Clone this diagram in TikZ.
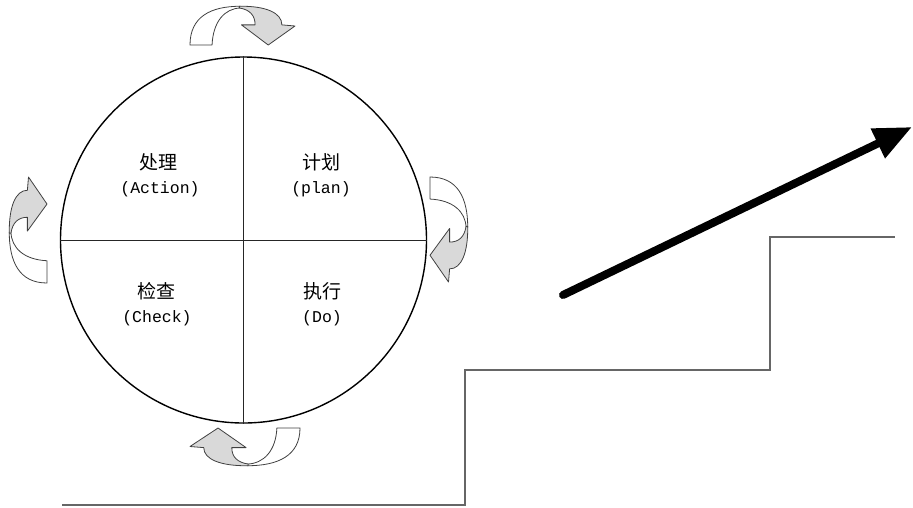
\documentclass[tikz,border=0pt]{standalone}
\usepackage{fontspec}
\setmonofont{Liberation Mono}
\newfontfamily\cjk{Noto Sans CJK SC}
\usetikzlibrary{arrows.meta}
\tikzset{
  quad/.style={draw=black!85, line width=1pt},
  cntext/.style={font=\cjk\fontsize{19}{22}\selectfont, inner sep=0pt},
  entext/.style={font=\ttfamily\fontsize{16.5}{20}\selectfont, inner sep=0pt},
  backband/.style={fill=white, draw=black!75, line width=0.8pt, line join=round},
  frontband/.style={fill=black!15, draw=black!75, line width=0.8pt, line join=round},
  stair/.style={draw=black!60, line width=1.3pt},
  bigarrow/.style={line width=8pt, line cap=round, -{Triangle[length=38pt,width=31pt]}}
}
\newcommand\pdcacurl{%
  \path[backband] (0,0) -- (0.21,0) .. controls (0.22,0.62) and (0.33,0.96) .. (0.48,0.975)
    -- (0.48,1.02) .. controls (0.2,1.02) and (0,0.75) .. (0,0) -- cycle;
  \path[frontband] (0.47,1.02) .. controls (0.72,1.03) and (0.875,0.85) .. (0.875,0.53)
    -- (1,0.5) -- (0.745,0) -- (0.49,0.53) -- (0.62,0.53)
    .. controls (0.62,0.78) and (0.57,0.93) .. (0.47,0.975) -- cycle;
}
\begin{document}
\begin{tikzpicture}[x=1pt,y=-1pt]
\useasboundingbox (0,0) rectangle (913,507);
% circle and quadrants
\node[circle, draw=black, line width=1.4pt, minimum size=366pt, inner sep=0pt] (c) at (243.5,240) {};
\draw[quad] (c.north) -- (c.south);
\draw[quad] (c.west) -- (c.east);
% labels
\node[cntext] (a1) at (158,162) {处理};
\node[entext] (a2) at (160,189) {(Action)};
\node[cntext] (p1) at (321,162) {计划};
\node[entext] (p2) at (321,189) {(plan)};
\node[cntext] (k1) at (156,291) {检查};
\node[entext] (k2) at (157,318) {(Check)};
\node[cntext] (d1) at (322,291) {执行};
\node[entext] (d2) at (322,318) {(Do)};
% curved arrows
\begin{scope}[shift={(190,45)}, x={(105pt,0pt)}, y={(0pt,38pt)}]
  \pdcacurl
\end{scope}
\begin{scope}[shift={(430,177)}, x={(0pt,-105pt)}, y={(37pt,0pt)}]
  \pdcacurl
\end{scope}
\begin{scope}[shift={(300,428)}, x={(-110pt,0pt)}, y={(0pt,-37pt)}]
  \pdcacurl
\end{scope}
\begin{scope}[shift={(47,283)}, x={(0pt,106pt)}, y={(-37pt,0pt)}]
  \pdcacurl
\end{scope}
% staircase
\draw[stair] (62,505) -- (465,505) -- (465,370) -- (770,370) -- (770,237) -- (895,237);
% big arrow
\coordinate (s) at (563,295);
\coordinate (t) at (912,127);
\draw[bigarrow] (s) -- (t);
\end{tikzpicture}
\end{document}
